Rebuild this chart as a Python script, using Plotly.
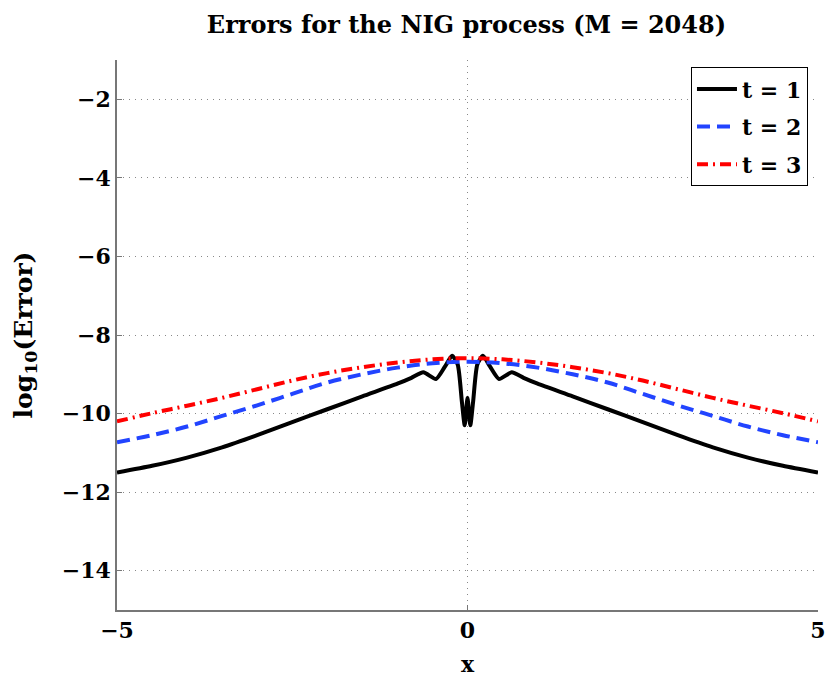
import plotly.graph_objects as go

# x positions (left half, mirrored for right half)
x_t1_left = [-5, -4.5, -4, -3.5, -3, -2.5, -2, -1.5, -1, -0.8, -0.63, -0.45, -0.32, -0.22, -0.14, -0.08, -0.04, 0]
y_t1_left = [-11.50, -11.33, -11.12, -10.86, -10.55, -10.22, -9.89, -9.56, -9.24, -9.09, -8.95, -9.12, -8.80, -8.53, -8.75, -9.7, -10.3, -9.6]

x_t2_left = [-5, -4.5, -4, -3.5, -3, -2.5, -2, -1.5, -1, -0.5, 0]
y_t2_left = [-10.73, -10.55, -10.33, -10.06, -9.79, -9.50, -9.21, -9.00, -8.83, -8.72, -8.68]

x_t3_left = [-5, -4.5, -4, -3.5, -3, -2.5, -2, -1.5, -1, -0.5, 0]
y_t3_left = [-10.20, -9.99, -9.80, -9.60, -9.38, -9.16, -8.97, -8.82, -8.70, -8.62, -8.59]

x_ticks = [-5, 0, 5]
y_ticks = [-14, -12, -10, -8, -6, -4, -2]


def mirror(xs, ys):
    xr = [-v for v in reversed(xs[:-1])]
    yr = list(reversed(ys[:-1]))
    return xs + xr, ys + yr


x1, y1 = mirror(x_t1_left, y_t1_left)
x2, y2 = mirror(x_t2_left, y_t2_left)
x3, y3 = mirror(x_t3_left, y_t3_left)

FONT = "DejaVu Serif"

fig = go.Figure()
fig.add_trace(go.Scatter(x=x1, y=y1, mode="lines", name="t = 1", legendgroup="a",
                         line=dict(color="black", width=4, shape="spline", smoothing=0.6)))
fig.add_trace(go.Scatter(x=x2, y=y2, mode="lines", name="t = 2", legendgroup="b",
                         line=dict(color="rgb(34,68,255)", width=4, dash="13px,7px", shape="spline")))
fig.add_trace(go.Scatter(x=x3, y=y3, mode="lines", name="t = 3", legendgroup="c",
                         line=dict(color="rgb(255,0,0)", width=4, dash="11px,5px,2px,5px", shape="spline")))

axis_common = dict(
    showline=True, linecolor="#777777", linewidth=1.5,
    ticks="inside", ticklen=5, tickcolor="#777777",
    showgrid=True, gridcolor="#888888", gridwidth=1, griddash="1px,5px",
    zeroline=False, mirror=False, automargin=False,
    tickfont=dict(family=FONT, size=22, color="black", weight="bold"),
)

fig.update_layout(
    width=830, height=683,
    paper_bgcolor="white", plot_bgcolor="white",
    margin=dict(l=117, r=12, t=60, b=73),
    title=dict(text="Errors for the NIG process (M = 2048)", x=0.562, xanchor="center",
               y=0.964, yanchor="middle",
               font=dict(family=FONT, size=24, color="black", weight="bold")),
    xaxis=dict(range=[-5, 5], tickvals=x_ticks, **axis_common,
               title=dict(text="x", standoff=14, font=dict(family=FONT, size=22, color="black", weight="bold"))),
    yaxis=dict(range=[-15, -1], tickvals=y_ticks, **axis_common,
               title=dict(text="log<sub>10</sub>(Error)", standoff=22,
                          font=dict(family=FONT, size=25, color="black", weight="bold"))),
    legend=dict(x=0.9857, y=0.987, xanchor="right", yanchor="top",
                bgcolor="white", bordercolor="black", borderwidth=1,
                font=dict(family=FONT, size=22, color="black", weight="bold"),
                tracegroupgap=6, itemwidth=40),
    showlegend=True,
)

fig.write_html("out.html", config={"displayModeBar": False},
               post_script="document.body.style.margin='0';document.body.style.overflow='hidden';")
